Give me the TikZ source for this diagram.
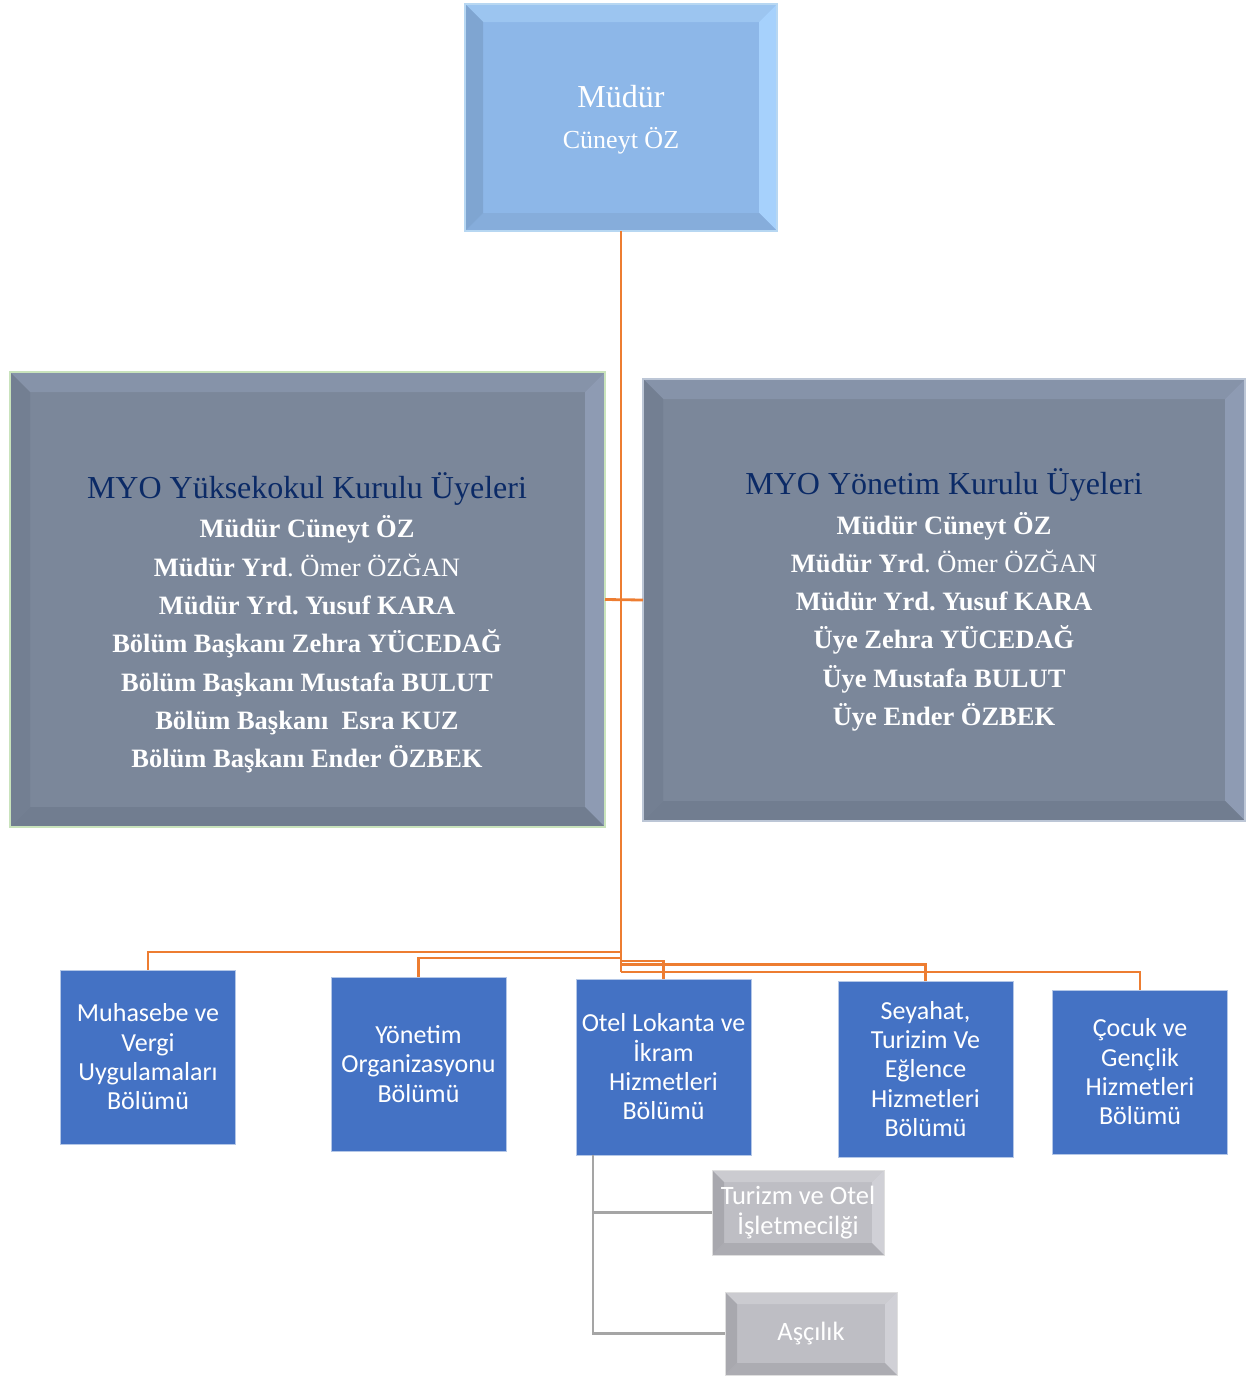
\documentclass[tikz,border=0pt]{standalone}
\usepackage{fontspec}
\setmainfont{Liberation Serif}
\newfontfamily\calibri{Carlito}
\usetikzlibrary{backgrounds}
\frenchspacing

\definecolor{orgorange}{HTML}{ED7D31}
\definecolor{deptblue}{HTML}{4472C4}
\definecolor{navy}{HTML}{0B2A66}
\definecolor{subgray}{HTML}{A5A5A5}
\definecolor{ykline}{HTML}{C9E3BC}
\definecolor{ynline}{HTML}{BCC6D6}
\definecolor{mudline}{HTML}{B7D7F2}
% bevel colours
\definecolor{mudBase}{HTML}{8DB7E8}
\definecolor{mudTop}{HTML}{9CC5F0}
\definecolor{mudRight}{HTML}{A6D1FC}
\definecolor{mudBottom}{HTML}{86ADDB}
\definecolor{mudLeft}{HTML}{7FA5D1}
\definecolor{kurBase}{HTML}{7B879A}
\definecolor{kurTop}{HTML}{8693A9}
\definecolor{kurRight}{HTML}{8E9BB3}
\definecolor{kurBottom}{HTML}{717D90}
\definecolor{kurLeft}{HTML}{737F92}
\definecolor{prgBase}{HTML}{BEBEC4}
\definecolor{prgTop}{HTML}{CBCBD0}
\definecolor{prgRight}{HTML}{D0D0D6}
\definecolor{prgBottom}{HTML}{ACACB2}
\definecolor{prgLeft}{HTML}{A8A8AE}

% bevel: node, inset, colour prefix
\newcommand\bevel[3]{%
  \begin{scope}[on background layer]
    \fill[#3Base] (#1.north west) rectangle (#1.south east);
    \fill[#3Top] (#1.north west) -- (#1.north east) -- ([shift={(-#2,#2)}]#1.north east) -- ([shift={(#2,#2)}]#1.north west) -- cycle;
    \fill[#3Right] (#1.north east) -- (#1.south east) -- ([shift={(-#2,-#2)}]#1.south east) -- ([shift={(-#2,#2)}]#1.north east) -- cycle;
    \fill[#3Bottom] (#1.south east) -- (#1.south west) -- ([shift={(#2,-#2)}]#1.south west) -- ([shift={(-#2,-#2)}]#1.south east) -- cycle;
    \fill[#3Left] (#1.south west) -- (#1.north west) -- ([shift={(#2,#2)}]#1.north west) -- ([shift={(#2,-#2)}]#1.south west) -- cycle;
  \end{scope}}

\begin{document}
\begin{tikzpicture}[x=1pt,y=-1pt,
    mudurbox/.style={draw=mudline, line width=1.5pt, inner sep=0, outer sep=0,
      minimum width=312, minimum height=227, align=center, text=white,
      font=\fontsize{26}{41}\selectfont},
    kurulbox/.style={line width=1.2pt, inner sep=0, outer sep=0, align=center, text=white,
      font=\fontsize{26.5}{38.3}\selectfont\bfseries},
    bolumbox/.style={fill=deptblue, draw=deptblue!40!white, line width=0.6pt, inner sep=0, outer sep=0,
      minimum width=175, align=center, text=white, font=\calibri\fontsize{26}{29.3}\selectfont},
    programbox/.style={draw=gray!25, line width=1pt, inner sep=0, outer sep=0, align=center,
      text=white, minimum width=172, font=\calibri\fontsize{26.5}{30}\selectfont},
    orgline/.style={draw=orgorange, line width=2.8pt},
    subline/.style={draw=subgray, line width=2.8pt}]
\useasboundingbox (0,0) rectangle (1249,1376);

% top
\node[mudurbox] (mudur) at (621,117.5) {};
\node[mudurbox, draw=none, minimum size=0] (mudurText) at (621,120)
  {{\fontsize{32}{41}\selectfont Müdür}\\Cüneyt ÖZ};
\bevel{mudur}{18}{mud}

% boards
\node[kurulbox, draw=ykline, minimum width=595, minimum height=455] (yk) at (307.5,599.5) {};
\node[kurulbox] (ykText) at (307,623) {%
  {\fontsize{32}{43}\selectfont\mdseries\color{navy} MYO Yüksekokul Kurulu Üyeleri}\\[1pt]
  Müdür Cüneyt ÖZ\\
  Müdür Yrd{\mdseries. Ömer ÖZĞAN}\\
  Müdür Yrd. Yusuf KARA\\
  Bölüm Başkanı Zehra YÜCEDAĞ\\
  Bölüm Başkanı Mustafa BULUT\\
  Bölüm Başkanı~~Esra KUZ\\
  Bölüm Başkanı Ender ÖZBEK};
\bevel{yk}{20}{kur}

\node[kurulbox, draw=ynline, minimum width=602, minimum height=442] (yn) at (944,600) {%
  {\fontsize{32}{43}\selectfont\mdseries\color{navy} MYO Yönetim Kurulu Üyeleri}\\[1pt]
  Müdür Cüneyt ÖZ\\
  Müdür Yrd{\mdseries. Ömer ÖZĞAN}\\
  Müdür Yrd. Yusuf KARA\\
  Üye Zehra YÜCEDAĞ\\
  Üye Mustafa BULUT\\
  Üye Ender ÖZBEK};
\bevel{yn}{20}{kur}

% departments
\node[bolumbox, minimum height=174] (muh) at (148,1057) {Muhasebe ve\\Vergi\\Uygulamaları\\Bölümü};
\node[bolumbox, minimum height=174] (yon) at (418.5,1064) {Yönetim\\Organizasyonu\\Bölümü};
\node[bolumbox, minimum height=176] (otel) at (663.5,1067) {Otel Lokanta ve\\İkram\\Hizmetleri\\Bölümü};
\node[bolumbox, minimum height=176] (sey) at (925.5,1069) {Seyahat,\\Turizim Ve\\Eğlence\\Hizmetleri\\Bölümü};
\node[bolumbox, minimum height=164] (coc) at (1140,1072) {Çocuk ve\\Gençlik\\Hizmetleri\\Bölümü};

% programs
\node[programbox, minimum height=85] (tur) at (798,1212.5) {Turizm ve Otel\\İşletmecilği};
\bevel{tur}{12}{prg}
\node[programbox, minimum height=83] (asc) at (811,1333.5) {Aşçılık};
\bevel{asc}{12}{prg}

% connectors
\coordinate (stemEnd) at (0,972);
\draw[orgline] (mudur.south) -- (mudur.south |- stemEnd);
\draw[orgline] (yk.east) -- (yn.west);
\foreach \dep/\yy in {muh/952, yon/958, otel/961, sey/964.5, coc/972}{
  \coordinate (knee) at (0,\yy);
  \draw[orgline] (mudur.south |- knee) -| (\dep.north);
}
\coordinate (subTop) at ([xshift=17]otel.south west);
\draw[subline] (subTop) |- (tur.west);
\draw[subline] (subTop) |- (asc.west);
\end{tikzpicture}
\end{document}
